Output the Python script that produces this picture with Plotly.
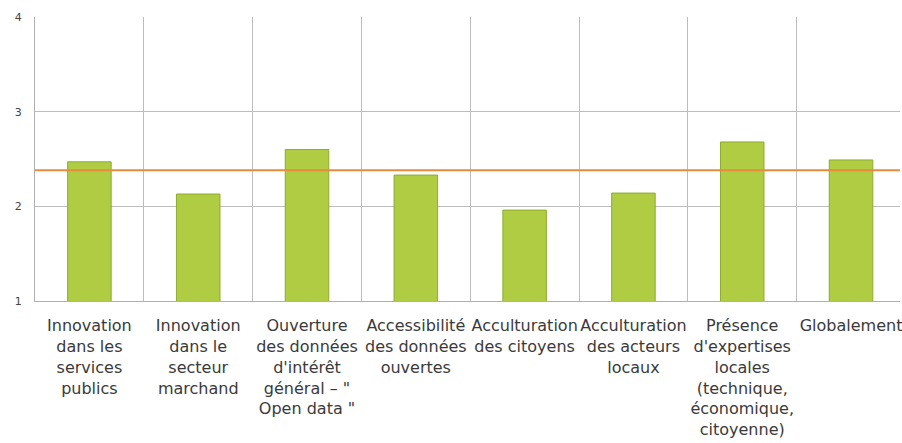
import plotly.graph_objects as go

categories = [
    "Innovation<br>dans les<br>services<br>publics",
    "Innovation<br>dans le<br>secteur<br>marchand",
    "Ouverture<br>des données<br>d'intérêt<br>général – \"<br>Open data \"",
    "Accessibilité<br>des données<br>ouvertes",
    "Acculturation<br>des citoyens",
    "Acculturation<br>des acteurs<br>locaux",
    "Présence<br>d'expertises<br>locales<br>(technique,<br>économique,<br>citoyenne)",
    "Globalement",
]
values = [2.47, 2.13, 2.60, 2.33, 1.96, 2.14, 2.68, 2.49]
average = 2.38
y_ticks = [1, 2, 3, 4]

fig = go.Figure()
fig.add_trace(go.Bar(
    x=categories, y=values,
    width=0.4,
    marker=dict(color="#afcc43", line=dict(color="#8eab2e", width=1)),
    showlegend=False,
))
fig.add_hline(y=average, line=dict(color="#e98a3c", width=2), layer="above")

fig.update_layout(
    width=902, height=443,
    margin=dict(l=35, r=0, t=17, b=142),
    paper_bgcolor="white", plot_bgcolor="white",
    font=dict(family="DejaVu Sans", size=16, color="#3a3a3a"),
    bargap=0.6,
)
fig.update_xaxes(
    type="category",
    range=[-0.5, 7.45],
    tickson="boundaries",
    showgrid=True, gridcolor="#bdbdbd", gridwidth=1,
    showline=True, linecolor="#b0b0b0", linewidth=1,
    ticks="", ticklabelstandoff=10,
    tickangle=0,
    tickfont=dict(family="DejaVu Sans", size=16, color="#3a3a3a"),
)
fig.update_yaxes(
    range=[1, 4],
    tickvals=y_ticks,
    showgrid=True, gridcolor="#bdbdbd", gridwidth=1,
    showline=True, linecolor="#b0b0b0", linewidth=1,
    zeroline=False,
    ticks="", ticklabelstandoff=10,
    tickfont=dict(family="DejaVu Sans", size=11, color="#444444"),
)
fig.write_html("out.html")
